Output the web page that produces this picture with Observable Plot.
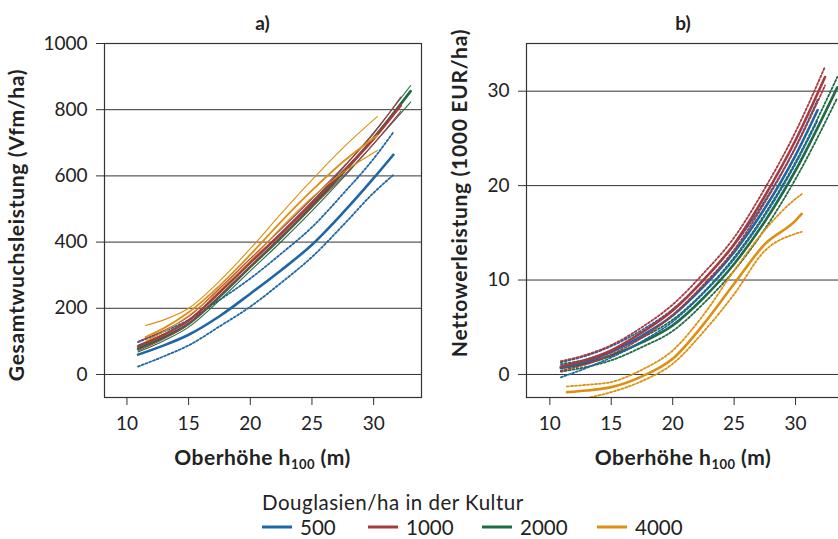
<!DOCTYPE html>
<html><head><meta charset="utf-8">
<script src="https://cdn.jsdelivr.net/npm/d3@7"></script>
<script src="https://cdn.jsdelivr.net/npm/@observablehq/plot@0.6"></script>
<style>
body{margin:0;overflow:hidden;background:#fff;}
#wrap{position:relative;width:838px;height:539px;overflow:hidden;background:#fff;}
#wrap > svg{position:absolute;}
</style></head><body><div id="wrap"></div>
<script>
// ---------- categories / colours ----------
const seriesNames = ["500", "1000", "2000", "4000"];
const seriesColors = ["#1f66a6", "#a63a3f", "#1f6b44", "#dd8f12"];
const xTicks = [10, 15, 20, 25, 30];
const aTicks = [0, 200, 400, 600, 800, 1000];
const bTicks = [0, 10, 20, 30];
const legendTitle = "Douglasien/ha in der Kultur";
const titleA = "a)", titleB = "b)";
const yLabelA = "Gesamtwuchsleistung (Vfm/ha)";
const yLabelB = "Nettowerleistung (1000 EUR/ha)";

// ---------- panel a: Gesamtwuchsleistung (Vfm/ha) ----------
const aH500   = [10.9, 13, 15, 17.5, 20, 22.5, 25, 27.5, 30, 31.6];
const aMid500 = [60, 88, 120, 176, 244, 315, 392, 488, 593, 664];
const aUp500  = [98, 130, 165, 225, 290, 365, 445, 545, 652, 732];
const aLo500  = [24, 55, 88, 145, 205, 277, 355, 450, 549, 603];

const aH1000   = [10.9, 13, 15, 17.5, 20, 22.5, 25, 27.5, 30, 32.2];
const aMid1000 = [85, 120, 163, 248, 338, 426, 518, 612, 712, 813];
const aUp1000  = [100, 133, 175, 260, 350, 439, 531, 626, 728, 838];
const aLo1000  = [72, 108, 152, 236, 326, 413, 505, 598, 697, 795];

const aH2000   = [10.9, 13, 15, 17.5, 20, 22.5, 25, 27.5, 30, 33.0];
const aMid2000 = [78, 112, 153, 235, 325, 414, 508, 608, 714, 856];
const aUp2000  = [88, 122, 163, 246, 337, 427, 522, 623, 731, 873];
const aLo2000  = [68, 102, 143, 224, 313, 401, 494, 593, 697, 823];

const aH4000   = [11.5, 13, 15, 17.5, 20, 22.5, 25, 27.5, 30.3];
const aMid4000 = [113, 140, 188, 268, 362, 462, 556, 642, 722];
const aUp4000  = [148, 165, 200, 282, 380, 486, 588, 684, 779];
const aLo4000  = [100, 130, 178, 255, 344, 444, 535, 610, 677];

// ---------- panel b: Nettowerleistung (1000 EUR/ha) ----------
const bH500   = [10.9, 13, 15, 17.5, 20, 22.5, 25, 27.5, 30, 31.8];
const bMid500 = [0.7, 1.4, 2.37, 4.1, 6.25, 9.3, 12.96, 17.6, 23.2, 28.0];
const bUp500  = [1.3, 2.0, 3.0, 4.7, 6.9, 10.0, 13.7, 18.4, 24.1, 29.1];
const bLo500  = [-0.3, 0.7, 1.8, 3.5, 5.6, 8.6, 12.2, 16.8, 22.3, 26.9];

const bH1000   = [10.9, 13, 15, 17.5, 20, 22.5, 25, 27.5, 30, 32.4];
const bMid1000 = [0.85, 1.55, 2.54, 4.45, 6.78, 10.0, 13.8, 18.9, 24.8, 31.5];
const bUp1000  = [1.4, 2.1, 3.1, 5.0, 7.4, 10.7, 14.5, 19.7, 25.7, 32.6];
const bLo1000  = [0.4, 1.1, 2.1, 3.9, 6.3, 9.5, 13.2, 18.2, 24.0, 30.6];

const bH2000   = [10.9, 13, 15, 17.5, 20, 22.5, 25, 27.5, 30, 33.4];
const bMid2000 = [0.7, 1.2, 2.0, 3.4, 5.2, 8.1, 11.7, 16.2, 21.6, 30.4];
const bUp2000  = [1.1, 1.6, 2.5, 3.9, 5.8, 8.7, 12.4, 17.0, 22.5, 31.5];
const bLo2000  = [0.3, 0.8, 1.5, 2.9, 4.6, 7.5, 11.0, 15.4, 20.7, 29.3];

const bH4000   = [11.4, 13, 15, 17.5, 20, 22.5, 25, 27.5, 30, 30.5];
const bMid4000 = [-1.87, -1.7, -1.34, -0.2, 1.66, 5.3, 9.6, 13.8, 16.3, 17.0];
const bUp4000  = [-1.27, -1.1, -0.8, 0.5, 2.54, 6.3, 11.0, 15.3, 18.6, 19.1];
const bLo4000  = [-2.9, -2.5, -1.87, -0.7, 1.13, 4.5, 8.5, 13.1, 14.9, 15.1];

// ---------- helpers ----------
const FONT = "Lato, 'Open Sans', 'DejaVu Sans', sans-serif";
function rows(h, vals, s, kind) { return h.map((x, i) => ({h: x, v: vals[i], s, kind})); }
const color = {domain: seriesNames, range: seriesColors};

const aData = {
  "500":  {h: aH500,  mid: aMid500,  up: aUp500,  lo: aLo500},
  "1000": {h: aH1000, mid: aMid1000, up: aUp1000, lo: aLo1000},
  "2000": {h: aH2000, mid: aMid2000, up: aUp2000, lo: aLo2000},
  "4000": {h: aH4000, mid: aMid4000, up: aUp4000, lo: aLo4000}
};
const bData = {
  "500":  {h: bH500,  mid: bMid500,  up: bUp500,  lo: bLo500},
  "1000": {h: bH1000, mid: bMid1000, up: bUp1000, lo: bLo1000},
  "2000": {h: bH2000, mid: bMid2000, up: bUp2000, lo: bLo2000},
  "4000": {h: bH4000, mid: bMid4000, up: bUp4000, lo: bLo4000}
};

function lineMarks(data, order, panelA) {
  const marks = [];
  for (const s of order) {
    const d = data[s];
    const bounds = [...rows(d.h, d.up, s, "up"), ...rows(d.h, d.lo, s, "lo")];
    const dotted = !panelA || s === "500";
    marks.push(Plot.line(bounds, {
      x: "h", y: "v", z: "kind", stroke: "s", curve: "monotone-x", clip: true,
      strokeWidth: dotted ? 1.8 : 1.1,
      strokeDasharray: dotted ? "2,2" : "none"
    }));
    marks.push(Plot.line(rows(d.h, d.mid, s, "mid"), {
      x: "h", y: "v", stroke: "s", curve: "monotone-x", clip: true,
      strokeWidth: (panelA && s === "4000") ? 1.8 : 2.6
    }));
  }
  return marks;
}

function makePanel({xDomain, yDomain, yTicks, marginLeft, marginRight, data, order, panelA}) {
  return Plot.plot({
    width: 430, height: 480,
    marginLeft, marginRight, marginTop: 43, marginBottom: 83,
    style: {fontFamily: FONT, fontSize: "19px", color: "#222", background: "transparent", overflow: "visible"},
    x: {domain: xDomain, label: null},
    y: {domain: yDomain, label: null},
    color,
    marks: [
      Plot.ruleY(yTicks, {stroke: "#333", strokeWidth: 1}),
      ...lineMarks(data, order, panelA),
      Plot.frame({stroke: "#333", strokeWidth: 1.2}),
      Plot.axisY({ticks: yTicks, tickSize: 8, tickPadding: 9, tickFormat: "d", stroke: "#333", label: null}),
      Plot.axisX({ticks: xTicks, tickSize: 8, tickPadding: 11, tickFormat: "d", stroke: "#333", label: null})
    ]
  });
}

const wrap = document.getElementById("wrap");

const svgA = makePanel({
  xDomain: [8.18, 33.88], yDomain: [-69.5, 1000], yTicks: aTicks,
  marginLeft: 104, marginRight: 9, data: aData,
  order: ["500", "2000", "1000", "4000"], panelA: true
});
svgA.style.left = "0px"; svgA.style.top = "0px";
wrap.appendChild(svgA);

const svgB = makePanel({
  xDomain: [8.1, 33.66], yDomain: [-2.44, 35.05], yTicks: bTicks,
  marginLeft: 106, marginRight: 10, data: bData,
  order: ["2000", "500", "1000", "4000"], panelA: false
});
svgB.style.left = "420px"; svgB.style.top = "0px";
wrap.appendChild(svgB);

// ---------- titles (real text) ----------
function decorate(svg, panelTitle, cx, yLabel, yLabelX, yLabelY) {
  const s = d3.select(svg);
  s.append("text").text(panelTitle)
    .attr("x", cx).attr("y", 30).attr("text-anchor", "middle")
    .attr("font-family", FONT).attr("font-weight", "bold").attr("font-size", 19).attr("fill", "#222");
  const t = s.append("text")
    .attr("x", cx).attr("y", 465).attr("text-anchor", "middle")
    .attr("font-family", FONT).attr("font-weight", "bold").attr("font-size", 21)
    .attr("letter-spacing", 0.5).attr("fill", "#222");
  t.append("tspan").text("Oberhöhe h");
  t.append("tspan").text("100").attr("font-size", 13).attr("dy", 4);
  t.append("tspan").text(" (m)").attr("dy", -4);
  s.append("text").text(yLabel)
    .attr("transform", `translate(${yLabelX},${yLabelY}) rotate(-90)`)
    .attr("text-anchor", "middle").attr("dy", "0.35em")
    .attr("font-family", FONT).attr("font-weight", "bold").attr("font-size", 21)
    .attr("letter-spacing", 0.7).attr("fill", "#222");
}
decorate(svgA, titleA, 262.5, yLabelA, 17, 225);
decorate(svgB, titleB, 263, yLabelB, 40, 193);

// ---------- legend ----------
const legendX = [262, 368, 482, 597];
const leg = d3.select(wrap).append("svg")
  .attr("width", 838).attr("height", 64)
  .style("left", "0px").style("top", "475px");
leg.append("text").text(legendTitle)
  .attr("x", 262).attr("y", 35).attr("letter-spacing", 0.5)
  .attr("font-family", FONT).attr("font-size", 20.5).attr("fill", "#222");
seriesNames.forEach((name, i) => {
  const g = leg.append("g").attr("transform", `translate(${legendX[i]},0)`);
  g.append("line").attr("x1", 0).attr("x2", 30).attr("y1", 52).attr("y2", 52)
    .attr("stroke", seriesColors[i]).attr("stroke-width", 3);
  g.append("text").text(name).attr("x", 38).attr("y", 60)
    .attr("font-family", FONT).attr("font-size", 20.5).attr("fill", "#222");
});
</script>
</body></html>
